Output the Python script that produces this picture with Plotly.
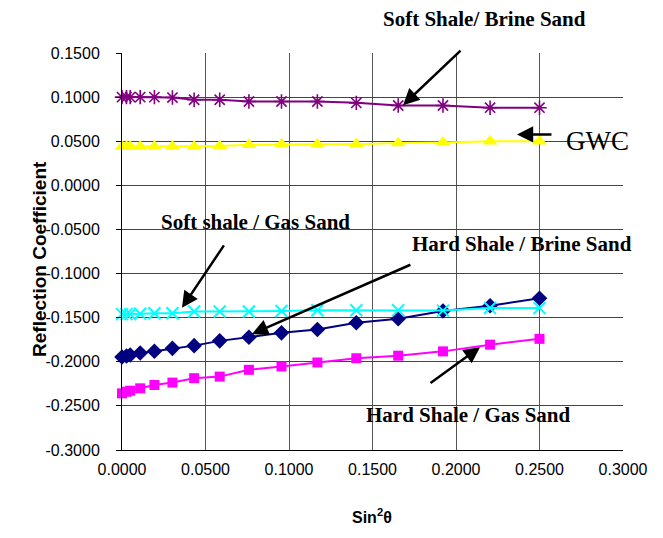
import plotly.graph_objects as go

# sin^2(theta) values
sin2 = [0.0000, 0.0027, 0.0049, 0.0109, 0.0194, 0.0302, 0.0432, 0.0585,
        0.0760, 0.0955, 0.1170, 0.1403, 0.1654, 0.1922, 0.2204, 0.2500]

hard_brine = [-0.1946, -0.1935, -0.1923, -0.1900, -0.1880, -0.1848, -0.1817, -0.1763,
              -0.1722, -0.1672, -0.1634, -0.1558, -0.1512, -0.1425, -0.1365, -0.1280]
hard_gas = [-0.2358, -0.2340, -0.2328, -0.2301, -0.2263, -0.2236, -0.2186, -0.2168,
            -0.2091, -0.2053, -0.2008, -0.1960, -0.1931, -0.1882, -0.1806, -0.1740]
soft_brine = [0.1000, 0.1000, 0.1000, 0.1000, 0.1000, 0.0995, 0.0970, 0.0970,
              0.0950, 0.0950, 0.0950, 0.0935, 0.0905, 0.0905, 0.0880, 0.0880]
gwc = [0.0440, 0.0440, 0.0440, 0.0440, 0.0440, 0.0440, 0.0440, 0.0445,
       0.0460, 0.0465, 0.0465, 0.0465, 0.0480, 0.0485, 0.0500, 0.0500]
soft_gas = [-0.1460, -0.1460, -0.1460, -0.1455, -0.1450, -0.1450, -0.1430, -0.1430,
            -0.1430, -0.1425, -0.1415, -0.1415, -0.1415, -0.1420, -0.1390, -0.1390]

tick_vals_x = [0.0, 0.05, 0.10, 0.15, 0.20, 0.25, 0.30]
tick_text_x = ["0.0000", "0.0500", "0.1000", "0.1500", "0.2000", "0.2500", "0.3000"]
tick_vals_y = [0.15, 0.10, 0.05, 0.0, -0.05, -0.10, -0.15, -0.20, -0.25, -0.30]
tick_text_y = ["0.1500", "0.1000", "0.0500", "0.0000", "-0.0500", "-0.1000",
               "-0.1500", "-0.2000", "-0.2500", "-0.3000"]

series = [
    ("Hard Shale / Brine Sand", hard_brine, "#000080", dict(symbol="diamond", size=12, color="#000080")),
    ("Hard Shale / Gas Sand", hard_gas, "#FF00FF", dict(symbol="square", size=10, color="#FF00FF")),
    ("Soft Shale/ Brine Sand", soft_brine, "#800080",
     dict(symbol="asterisk-open", size=12, color="#800080", line=dict(color="#800080", width=1.6))),
    ("GWC", gwc, "#FFFF00", dict(symbol="triangle-up", size=13, color="#FFFF00")),
    ("Soft shale / Gas Sand", soft_gas, "#00FFFF",
     dict(symbol="x-thin-open", size=12, color="#00FFFF", line=dict(color="#00FFFF", width=2))),
]

fig = go.Figure()
for name, ys, col, mk in series:
    fig.add_trace(go.Scatter(x=sin2, y=ys, mode="lines+markers", name=name,
                             line=dict(color=col, width=2), marker=mk, cliponaxis=False))

serif = "Liberation Serif, Times New Roman, serif"
sans = "Liberation Sans, Arial, sans-serif"

labels = [
    ("Soft Shale/ Brine Sand", 0.7239, 1.0856, True, 21),
    ("GWC", 0.9487, 0.7783, False, 27),
    ("Soft shale / Gas Sand", 0.2671, 0.5743, True, 21),
    ("Hard Shale / Brine Sand", 0.7984, 0.5189, True, 21),
    ("Hard Shale / Gas Sand", 0.6926, 0.0882, True, 21),
]
for txt, xp, yp, bold, fs in labels:
    fig.add_annotation(x=xp, y=yp, xref="paper", yref="paper", text=txt, showarrow=False,
                       font=dict(family=serif, size=fs, color="black",
                                 weight="bold" if bold else "normal"),
                       xanchor="center", yanchor="middle")

arrows = [
    (0.1683, 0.0909, 59, -56),
    (0.2365, 0.0577, 36, 0),
    (0.0359, -0.1389, 43, -64),
    (0.0778, -0.1686, 160, -70),
    (0.2144, -0.1834, -51, 37),
]
for x, y, ax, ay in arrows:
    fig.add_annotation(x=x, y=y, xref="x", yref="y", ax=ax, ay=ay, axref="pixel", ayref="pixel",
                       text="", showarrow=True, arrowhead=2, arrowsize=1.3, arrowwidth=2.5,
                       arrowcolor="black", standoff=0)

fig.add_annotation(x=0.499, y=-0.196, xref="paper", yref="paper", text="Sin<sup>2</sup>θ",
                   showarrow=False, font=dict(family=sans, size=16, color="black", weight="bold"))
fig.add_annotation(x=-0.1896, y=0.48, xref="paper", yref="paper", text="Reflection Coefficient",
                   showarrow=False, textangle=-90,
                   font=dict(family=sans, size=19, color="black", weight="bold"))

fig.update_xaxes(range=[0, 0.3], tickvals=tick_vals_x, ticktext=tick_text_x,
                 showgrid=True, gridcolor="#555555", gridwidth=1,
                 showline=True, linecolor="black", linewidth=1, mirror=False,
                 zeroline=False, ticks="", ticklabelstandoff=5,
                 tickfont=dict(family=sans, size=16, color="black"))
fig.update_yaxes(range=[-0.3, 0.15], tickvals=tick_vals_y, ticktext=tick_text_y,
                 showgrid=True, gridcolor="#444444", gridwidth=1,
                 showline=True, linecolor="black", linewidth=1,
                 zeroline=False, ticks="outside", ticklen=5, tickcolor="black",
                 ticklabelstandoff=13,
                 tickfont=dict(family=sans, size=16, color="black"))

fig.update_layout(width=663, height=538, showlegend=False,
                  plot_bgcolor="white", paper_bgcolor="white",
                  margin=dict(l=122, r=40, t=53, b=88))

fig.write_html("out.html")
